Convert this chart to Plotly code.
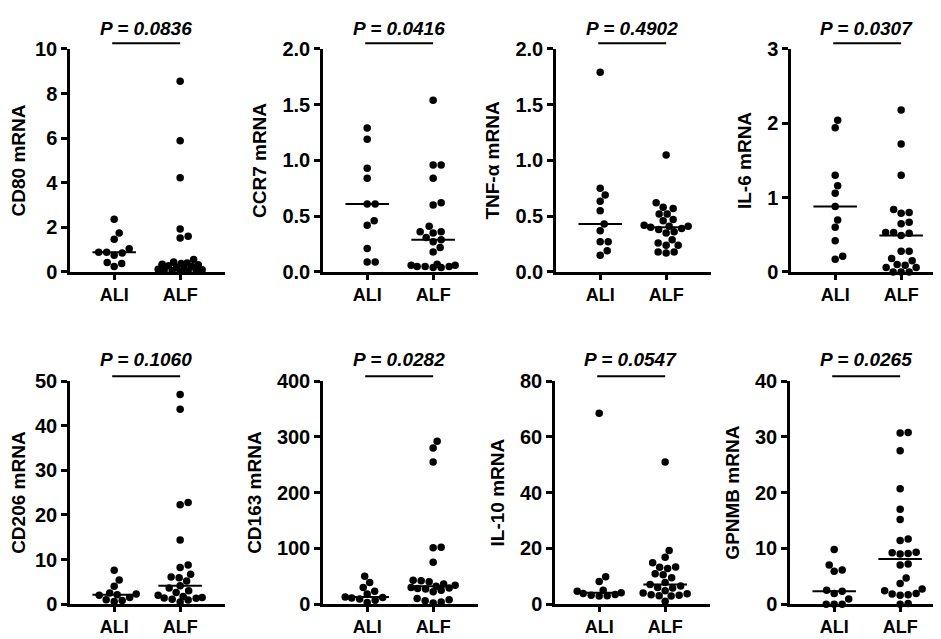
import numpy as np
import plotly.graph_objects as go

groups = ["ALI", "ALF"]

cd80_ali = [2.36, 1.75, 1.47, 1.04, 0.89, 0.88, 0.85, 0.75, 0.43, 0.38, 0.24]
cd80_alf = [8.55, 5.88, 4.22, 1.93, 1.60, 1.52, 0.56, 0.45, 0.40, 0.38, 0.35, 0.32,
            0.28, 0.25, 0.20, 0.16, 0.12, 0.10, 0.08, 0.06, 0.05, 0.03, 0.02]

ccr7_ali = [1.29, 1.19, 0.93, 0.84, 0.61, 0.61, 0.46, 0.42, 0.21, 0.09, 0.09]
ccr7_alf = [1.54, 0.96, 0.96, 0.84, 0.62, 0.60, 0.41, 0.36, 0.36, 0.35, 0.31, 0.29,
            0.27, 0.22, 0.18, 0.07, 0.06, 0.06, 0.05, 0.05, 0.05, 0.04, 0.04]

tnf_ali = [1.79, 0.75, 0.69, 0.635, 0.55, 0.43, 0.37, 0.27, 0.27, 0.19, 0.15]
tnf_alf = [1.05, 0.62, 0.58, 0.57, 0.52, 0.52, 0.47, 0.46, 0.42, 0.41, 0.41, 0.40,
           0.39, 0.38, 0.36, 0.35, 0.29, 0.26, 0.24, 0.24, 0.18, 0.18, 0.17]

il6_ali = [2.04, 1.94, 1.30, 1.16, 1.06, 0.88, 0.70, 0.60, 0.42, 0.21, 0.17]
il6_alf = [2.18, 1.72, 1.30, 0.84, 0.80, 0.79, 0.67, 0.65, 0.53, 0.53, 0.52, 0.49,
           0.28, 0.28, 0.18, 0.15, 0.10, 0.09, 0.06, 0.06, 0.0, 0.0, 0.0]

cd206_ali = [7.6, 5.4, 4.0, 2.5, 2.3, 2.1, 2.0, 1.5, 1.0, 0.8, 0.6]
cd206_alf = [47.0, 43.7, 22.8, 22.3, 14.4, 8.8, 8.2, 6.7, 6.1, 5.9, 5.2, 4.1,
             3.6, 3.0, 2.6, 2.0, 1.7, 1.5, 1.4, 1.3, 1.1, 0.9, 0.5]

cd163_ali = [50, 39, 30, 23, 18, 13, 12, 11, 9, 7, 3]
cd163_alf = [292, 280, 255, 102, 101, 75, 43, 42, 40, 36, 34, 32,
             30, 29, 28, 27, 25, 22, 10, 8, 6, 4, 2]

il10_ali = [68.5, 9.8, 8.1, 5.0, 4.6, 4.1, 3.8, 3.5, 3.2, 3.0, 2.9]
il10_alf = [51.0, 19.2, 16.8, 14.8, 13.3, 13.2, 12.8, 10.9, 10.5, 9.5, 7.8, 7.0,
            6.5, 6.0, 5.8, 4.8, 4.0, 3.7, 3.4, 3.2, 3.0, 2.9, 1.0]

gpnmb_ali = [9.8, 7.0, 6.1, 5.9, 2.5, 2.3, 1.9, 0.9, 0.0, 0.0, 0.0]
gpnmb_alf = [30.8, 30.7, 27.5, 20.7, 17.0, 15.2, 11.7, 11.4, 9.3, 9.2, 9.1, 9.0,
             7.2, 7.0, 4.7, 3.7, 2.7, 2.4, 1.9, 1.8, 1.7, 1.6, 0.1, 0.0]

titles = ["CD80 mRNA", "CCR7 mRNA", "TNF-α mRNA", "IL-6 mRNA",
          "CD206 mRNA", "CD163 mRNA", "IL-10 mRNA", "GPNMB mRNA"]
p_labels = ["P = 0.0836", "P = 0.0416", "P = 0.4902", "P = 0.0307",
            "P = 0.1060", "P = 0.0282", "P = 0.0547", "P = 0.0265"]
y_max = [10, 2.0, 2.0, 3, 50, 400, 80, 40]
y_dtick = [2, 0.5, 0.5, 1, 10, 100, 20, 10]
y_fmt = ["", ".1f", ".1f", "", "", "", "", ""]

data = [(cd80_ali, cd80_alf), (ccr7_ali, ccr7_alf), (tnf_ali, tnf_alf), (il6_ali, il6_alf),
        (cd206_ali, cd206_alf), (cd163_ali, cd163_alf), (il10_ali, il10_alf), (gpnmb_ali, gpnmb_alf)]

# ---- layout (pixels) ----
W, H = 941, 639
lefts = [62, 315, 548, 783, 62, 315, 547, 782]
plot_w = 155
rows = [(31, 262), (375, 606)]
x_range = [-0.67, 1.68]
px_per_unit = plot_w / (x_range[1] - x_range[0])
FONT = "Liberation Sans, Arial, sans-serif"


def swarm(vals, ymax, plot_h, diam=8.0, maxw=22.0):
    """Deterministic beeswarm offsets (in x data units), limited spread."""
    ys = np.asarray(vals, float) * plot_h / ymax
    order = np.argsort(ys, kind="stable")
    cands = [0.0]
    k = 1
    while k * 0.5 <= maxw:
        cands += [k * 0.5, -k * 0.5]
        k += 1
    placed = []
    xs = np.zeros(len(ys))
    for i in order:
        y = ys[i]
        chosen = None
        best_c, best_d = 0.0, -1.0
        for c in cands:
            if placed:
                d = min(np.hypot(c - px, y - py) for px, py in placed)
            else:
                d = 1e9
            if d >= diam:
                chosen = c
                break
            if d > best_d + 1e-9:
                best_d, best_c = d, c
        if chosen is None:
            chosen = best_c
        placed.append((chosen, y))
        xs[i] = chosen
    return xs / px_per_unit


fig = go.Figure()
shapes = []
annotations = []

for idx in range(8):
    r = idx // 4
    top, bot = rows[r]
    plot_h = bot - top
    L = lefts[idx]
    xa = "x" if idx == 0 else f"x{idx + 1}"
    ya = "y" if idx == 0 else f"y{idx + 1}"
    xkey = "xaxis" if idx == 0 else f"xaxis{idx + 1}"
    ykey = "yaxis" if idx == 0 else f"yaxis{idx + 1}"

    for g, vals in enumerate(data[idx]):
        off = swarm(vals, y_max[idx], plot_h)
        fig.add_trace(go.Scatter(
            x=g + off, y=vals, xaxis=xa, yaxis=ya, mode="markers",
            marker=dict(color="black", size=7.5, line=dict(width=0)),
            cliponaxis=False, showlegend=False, hoverinfo="skip"))
        med = float(np.median(vals))
        fig.add_trace(go.Scatter(
            x=[g - 0.33, g + 0.33], y=[med, med], xaxis=xa, yaxis=ya, mode="lines",
            line=dict(color="black", width=2), cliponaxis=False,
            showlegend=False, hoverinfo="skip"))

    ytickfont = dict(family=FONT, size=20, color="black", weight="bold")
    xtickfont = dict(family=FONT, size=18, color="black", weight="bold")
    fig.update_layout(**{
        xkey: dict(domain=[L / W, (L + plot_w) / W], anchor=ya, range=x_range,
                   tickvals=[0, 1], ticktext=groups, showline=True, linecolor="black",
                   linewidth=2.5, ticks="outside", ticklen=5, tickwidth=2.5,
                   tickcolor="black", showgrid=False, zeroline=False, fixedrange=True,
                   tickfont=xtickfont),
        ykey: dict(domain=[1 - bot / H, 1 - top / H], anchor=xa, range=[0, y_max[idx]],
                   dtick=y_dtick[idx], tick0=0, tickformat=y_fmt[idx], showline=True,
                   linecolor="black", linewidth=2.5, ticks="outside", ticklen=6,
                   tickwidth=2.5, tickcolor="black", showgrid=False, zeroline=False,
                   tickfont=ytickfont,
                   title=dict(text=titles[idx], standoff=11,
                              font=dict(family=FONT, size=19, color="black", weight="bold"))),
    })

    line_y = 1 + (6 if r == 0 else 5) / plot_h
    text_y = 1 + (21 if r == 0 else 22) / plot_h
    shapes.append(dict(type="line", xref=xa, yref=f"{ya} domain", x0=-0.03, x1=1.0,
                       y0=line_y, y1=line_y, line=dict(color="black", width=2)))
    annotations.append(dict(text=p_labels[idx], xref=xa, yref=f"{ya} domain",
                            x=0.48, y=text_y, xanchor="center", yanchor="middle",
                            showarrow=False,
                            font=dict(family=FONT, size=19, color="black",
                                      weight="bold", style="italic")))

fig.update_layout(width=W, height=H, margin=dict(l=0, r=0, t=0, b=0),
                  plot_bgcolor="white", paper_bgcolor="white",
                  shapes=shapes, annotations=annotations, showlegend=False)

fig.write_html("out.html")
